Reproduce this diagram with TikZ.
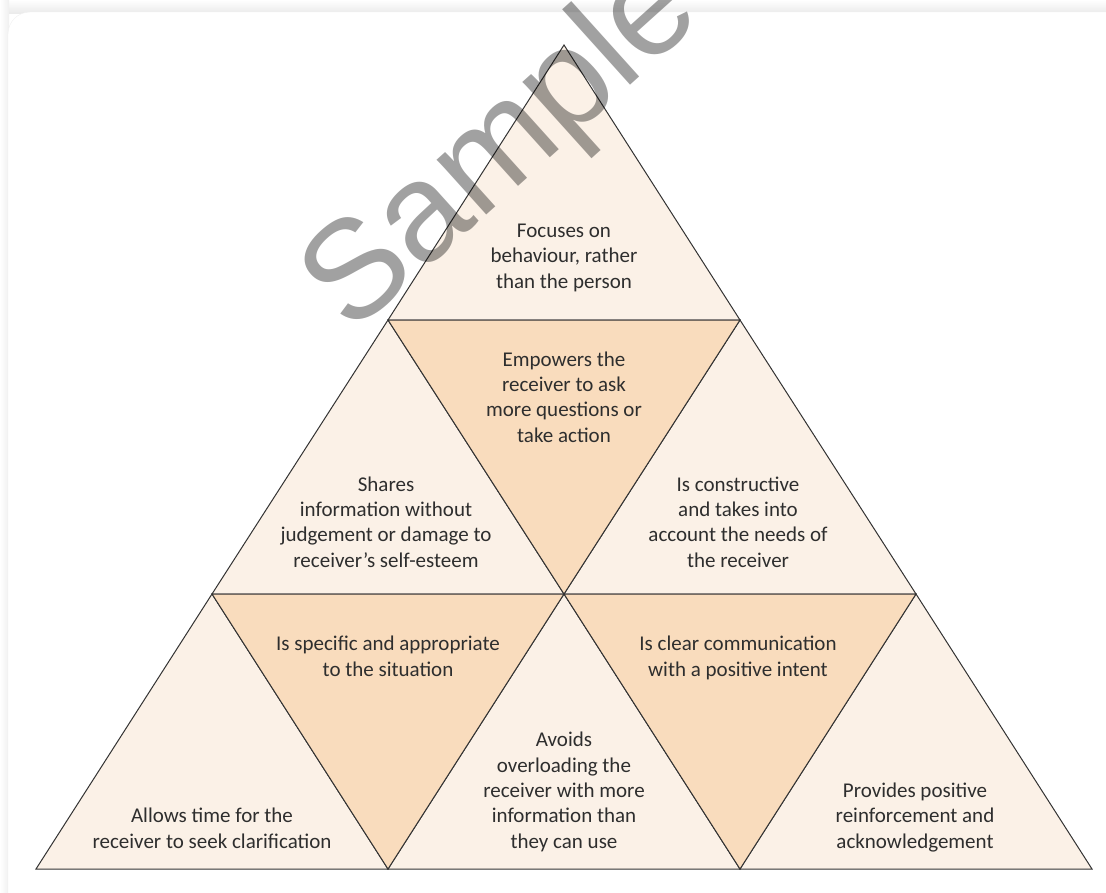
\documentclass[tikz,border=0pt]{standalone}
\usepackage{fontspec}
\setmainfont{Carlito}
\newfontfamily\wmfont{Liberation Sans}
\usepackage{xcolor}
\usepackage{tikz}
\usetikzlibrary{calc, positioning}

\definecolor{paleorange}{HTML}{FBF1E7}
\definecolor{darkorange}{HTML}{F9DCBD}
\definecolor{edgegray}{HTML}{333333}
\definecolor{txtgray}{HTML}{2E2E2E}

\begin{document}
\begin{tikzpicture}[x=1pt, y=-1pt,
  font=\fontsize{21}{25.3}\selectfont,
  tri/.style={draw=edgegray, line width=1pt, line join=miter},
  up/.style={tri, fill=paleorange},
  down/.style={tri, fill=darkorange},
  lbl/.style={align=center, inner sep=0pt, anchor=base, text=txtgray},
  wmark/.style={font=\wmfont\fontsize{140}{140}\selectfont, text=black, text opacity=0.37, inner sep=0pt}]
  \useasboundingbox (0,0) rectangle (1106,892);
  \clip (0,0) rectangle (1106,892);
  % Frame
  \shade[top color=white, bottom color=black!8] (0,0) rectangle (1106,13);
  \shade[left color=white, right color=black!6] (0,0) rectangle (9,892);
  \fill[white, draw=black!6, rounded corners=22pt] (8,12) rectangle (1140,930);
  % Grid points of the pyramid
  \coordinate (t)  at (564,45);
  \coordinate (a1) at (388,320);  \coordinate (b1) at (740,320);
  \coordinate (a2) at (212,594);  \coordinate (m2) at (564,594);  \coordinate (b2) at (916,594);
  \coordinate (a3) at (36,869);   \coordinate (l3) at (388,869);  \coordinate (r3) at (740,869);
  \coordinate (b3) at (1092,869);
  % Upright triangles
  \draw[up] (t) -- (a1) -- (b1) -- cycle;
  \draw[up] (a1) -- (a2) -- (m2) -- cycle;
  \draw[up] (b1) -- (m2) -- (b2) -- cycle;
  \draw[up] (a2) -- (a3) -- (l3) -- cycle;
  \draw[up] (m2) -- (l3) -- (r3) -- cycle;
  \draw[up] (b2) -- (r3) -- (b3) -- cycle;
  % Inverted triangles
  \draw[down] (a1) -- (b1) -- (m2) -- cycle;
  \draw[down] (a2) -- (m2) -- (l3) -- cycle;
  \draw[down] (m2) -- (b2) -- (r3) -- cycle;
  % Texts (placed on the baseline of their last line)
  \node[lbl] (focus)    at (564,288) {Focuses on\\behaviour, rather\\than the person};
  \node[lbl] (empower)  at (564,442) {Empowers the\\receiver to ask\\more questions or\\take action};
  \node[lbl] (shares)   at (386,567) {Shares\\information without\\judgement or damage to\\receiver’s self-esteem};
  \node[lbl] (construc) at (738,567) {Is constructive\\and takes into\\account the needs of\\the receiver};
  \node[lbl] (specific) at (388,676) {Is specific and appropriate\\to the situation};
  \node[lbl] (clear)    at (738,676) {Is clear communication\\with a positive intent};
  \node[lbl] (allows)   at (212,848) {Allows time for the\\receiver to seek clarification};
  \node[lbl] (avoids)   at (564,848) {Avoids\\overloading the\\receiver with more\\information than\\they can use};
  \node[lbl] (provides) at (915,848) {Provides positive\\reinforcement and\\acknowledgement};
  % Watermark
  \node[wmark, rotate=42] (sample) at (504,150) {Sample};
\end{tikzpicture}
\end{document}
